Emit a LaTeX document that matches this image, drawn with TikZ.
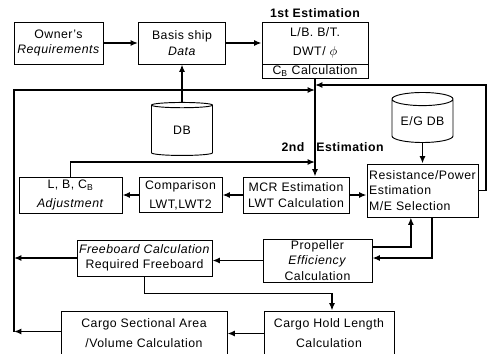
\documentclass[tikz,border=0pt]{standalone}
\usepackage{fontspec}
\setmainfont[LetterSpace=4]{Liberation Sans}
\usetikzlibrary{positioning, shapes.geometric, arrows.meta}

\begin{document}
\begin{tikzpicture}[
    x=0.03cm, y=-0.03cm,
    box/.style={
        draw, line width=0.8pt,
        inner sep=0pt,
        align=center,
        font=\fontsize{10.5}{13}\selectfont,
    },
    dbase/.style={
        cylinder, shape border rotate=90, aspect=0.3,
        draw, line width=0.8pt, inner sep=0pt,
        font=\fontsize{10.5}{13}\selectfont,
    },
    flow/.style={-{Latex[length=2.2mm, width=1.8mm]}, line width=1.5pt},
    gtitle/.style={font=\fontsize{10.5}{13}\selectfont\bfseries},
]
\useasboundingbox (0,0) rectangle (489,353);

\node[box, minimum width=2.67cm, minimum height=1.26cm] (owner) at (58.5,43) {%
  Owner's\\ \textit{Requirements}};
\node[box, minimum width=2.61cm, minimum height=1.26cm] (basis) at (182,43) {%
  Basis ship\\ \textit{Data}};
\node[box, minimum width=3.18cm, minimum height=1.26cm] (est1) at (315,43) {%
  L/B. B/T.\\[3pt] DWT/ $\phi$};
\node[box, minimum width=3.18cm, minimum height=0.42cm] (cb) at (315,71) {%
  C\textsubscript{B} Calculation};
\node[gtitle] (t1) at (315,13) {1st Estimation};

\node[dbase, minimum width=1.83cm, minimum height=1.59cm] (db) at (182,130.5) {\raisebox{-4pt}{DB}};
\node[dbase, minimum width=1.83cm, minimum height=1.5cm] (egdb) at (422.5,121) {\raisebox{-4pt}{E/G DB}};

\node[gtitle] (t2a) at (293,147) {2nd};
\node[gtitle] (t2b) at (350,147) {Estimation};

\node[box, minimum width=3.09cm, minimum height=1.08cm] (lbc) at (70.5,195) {%
  L, B, C\textsubscript{B}\\[3pt] \textit{Adjustment}};
\node[box, minimum width=2.49cm, minimum height=1.05cm] (comp) at (180.5,195) {%
  Comparison\\[3pt] LWT,LWT2};
\node[box, minimum width=3.18cm, minimum height=1.08cm] (mcr) at (296,195) {%
  MCR Estimation\\ LWT Calculation};
\node[box, minimum width=3.33cm, minimum height=1.59cm, align=left] (res) at (422.5,190.5) {%
  Resistance/Power\\ Estimation\\ M/E Selection};

\node[box, minimum width=3.27cm, minimum height=1.29cm] (prop) at (317.5,260.5) {%
  Propeller\\ \textit{Efficiency}\\ Calculation};
\node[box, minimum width=4.05cm, minimum height=1.08cm] (free) at (144.5,258) {%
  \textit{Freeboard Calculation}\\ Required Freeboard};

\node[box, minimum width=3.9cm, minimum height=1.35cm] (hold) at (329,333.5) {%
  Cargo Hold Length\\[4pt] Calculation};
\node[box, minimum width=4.98cm, minimum height=1.35cm] (sect) at (144,333.5) {%
  Cargo Sectional Area\\[4pt] /Volume Calculation};

\coordinate (lcorner) at (14,90);
\coordinate (rcorner) at (486,85);
\coordinate (feed) at (315,162);

\draw[flow] (owner.east) -- (owner.east -| basis.west);
\draw[flow] (basis.east) -- (basis.east -| est1.west);
\draw[flow] (db.north) -- (db.north |- basis.south);
\draw[flow] (cb.south) -- (cb.south |- mcr.north);

% feedback loops
\draw[flow] (free.west) -- (free.west -| lcorner);
\draw[flow] ([yshift=0.06cm]sect.west) -- ([yshift=0.06cm]sect.west -| lcorner);
\draw[flow] ([yshift=0.06cm]sect.west -| lcorner) -- (lcorner) -- (lcorner -| cb.south);
\draw[flow] (res.east) -- (res.east -| rcorner) -- (rcorner) -- (rcorner -| cb.south);
\draw[flow] (lbc.north) |- (feed);

\draw[flow] (mcr.west) -- (mcr.west -| comp.east);
\draw[flow] (comp.west) -- (comp.west -| lbc.east);
\draw[flow] (mcr.east) -- (mcr.east -| res.west);
\draw[flow] (egdb.south) -- (egdb.south |- res.north);
\draw[flow] ([xshift=0.28cm]res.south) |- ([yshift=0.075cm]prop.east);
\draw[flow] ([yshift=0.4cm]prop.east) -| ([xshift=-0.35cm]res.south);
\draw[flow] (prop.west) -- (prop.west -| free.east);
\draw[flow] (free.south) -- ++(0,17) -| ([xshift=0.09cm]hold.north);
\draw[flow] (hold.west) -- (hold.west -| sect.east);
\end{tikzpicture}
\end{document}
